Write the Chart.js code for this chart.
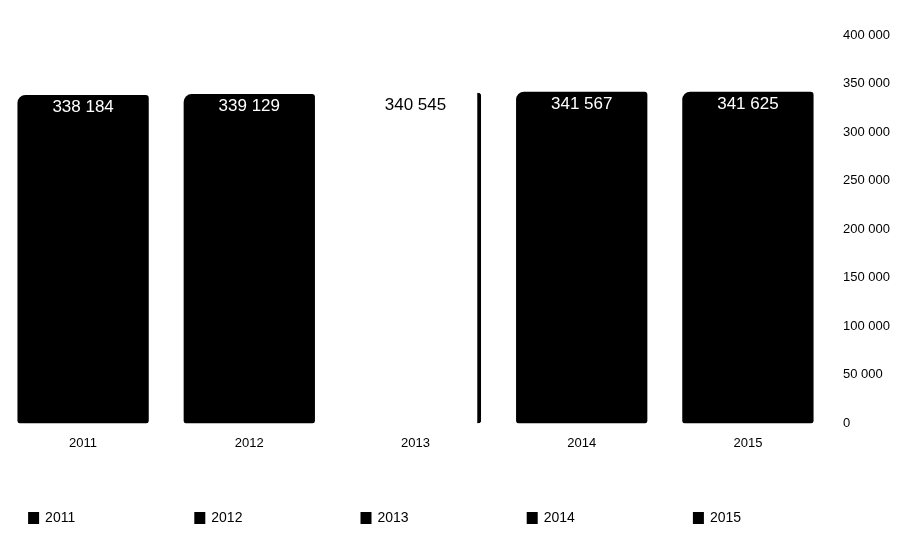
<!DOCTYPE HTML>
<html>

<head>
    <meta charset="utf-8">
    <script src="https://cdn.jsdelivr.net/npm/chart.js@4.4.1/dist/chart.umd.min.js"></script>
    <style>
        html, body {
            margin: 0;
            padding: 0;
            background: #ffffff;
        }

        #wrap {
            width: 903px;
            height: 535px;
        }
    </style>
</head>

<body>
    <div id="wrap">
        <canvas id="myChart"></canvas>
    </div>
</body>
<script>
    var years = ["2011", "2012", "2013", "2014", "2015"];
    var values = [338184, 339129, 340545, 341567, 341625];
    var yTicks = [0, 50000, 100000, 150000, 200000, 250000, 300000, 350000, 400000];

    var barColors = ["#000000", "#000000", "#ffffff", "#000000", "#000000"];
    var labelColors = ["#ffffff", "#ffffff", "#000000", "#ffffff", "#ffffff"];

    function fmt(v) {
        return String(v).replace(/\B(?=(\d{3})+(?!\d))/g, " ");
    }

    // value labels inside the top of each bar
    var valueLabels = {
        id: "valueLabels",
        afterDatasetsDraw: function (chart) {
            var ctx = chart.ctx;
            var meta = chart.getDatasetMeta(0);
            ctx.save();
            ctx.font = "17px 'Liberation Sans', Arial";
            ctx.textAlign = "center";
            ctx.textBaseline = "top";
            meta.data.forEach(function (bar, i) {
                ctx.fillStyle = labelColors[i];
                ctx.fillText(fmt(values[i]), bar.x, bar.y + 4);
            });
            ctx.restore();
        }
    };

    // legend row under the chart, one box per year
    var yearLegend = {
        id: "yearLegend",
        afterDraw: function (chart) {
            var ctx = chart.ctx;
            var x = chart.scales.x;
            var y = 518;
            ctx.save();
            ctx.font = "14px 'Liberation Sans', Arial";
            ctx.textBaseline = "middle";
            ctx.textAlign = "left";
            years.forEach(function (yr, i) {
                var cx = x.getPixelForValue(i) - 55;
                ctx.fillStyle = "#000000";
                ctx.fillRect(cx, y - 6, 11, 12);
                ctx.fillText(yr, cx + 17, y);
            });
            ctx.restore();
        }
    };

    var chart = new Chart("myChart", {
        type: "bar",
        data: {
            labels: years,
            datasets: [{
                data: values,
                backgroundColor: barColors,
                borderColor: "#000000",
                borderWidth: [0, 0, { right: 4 }, 0, 0],
                borderSkipped: false,
                borderRadius: { topLeft: 8, topRight: 3, bottomLeft: 3, bottomRight: 3 },
                categoryPercentage: 1,
                barPercentage: 0.79
            }]
        },
        options: {
            responsive: true,
            maintainAspectRatio: false,
            animation: false,
            layout: {
                padding: { top: 35, left: 0, right: 9, bottom: 80 }
            },
            plugins: {
                legend: { display: false },
                tooltip: { enabled: false }
            },
            scales: {
                x: {
                    grid: { display: false },
                    border: { display: false },
                    ticks: {
                        color: "#000000",
                        font: { family: "'Liberation Sans', Arial", size: 13 },
                        padding: 4
                    }
                },
                y: {
                    position: "right",
                    min: 0,
                    max: 400000,
                    afterBuildTicks: function (axis) {
                        axis.ticks = yTicks.map(function (v) { return { value: v }; });
                    },
                    grid: { display: false },
                    border: { display: false },
                    ticks: {
                        color: "#000000",
                        font: { family: "'Liberation Sans', Arial", size: 13 },
                        padding: 4,
                        callback: function (v) { return fmt(v); }
                    }
                }
            }
        },
        plugins: [valueLabels, yearLegend]
    });
</script>

</html>
